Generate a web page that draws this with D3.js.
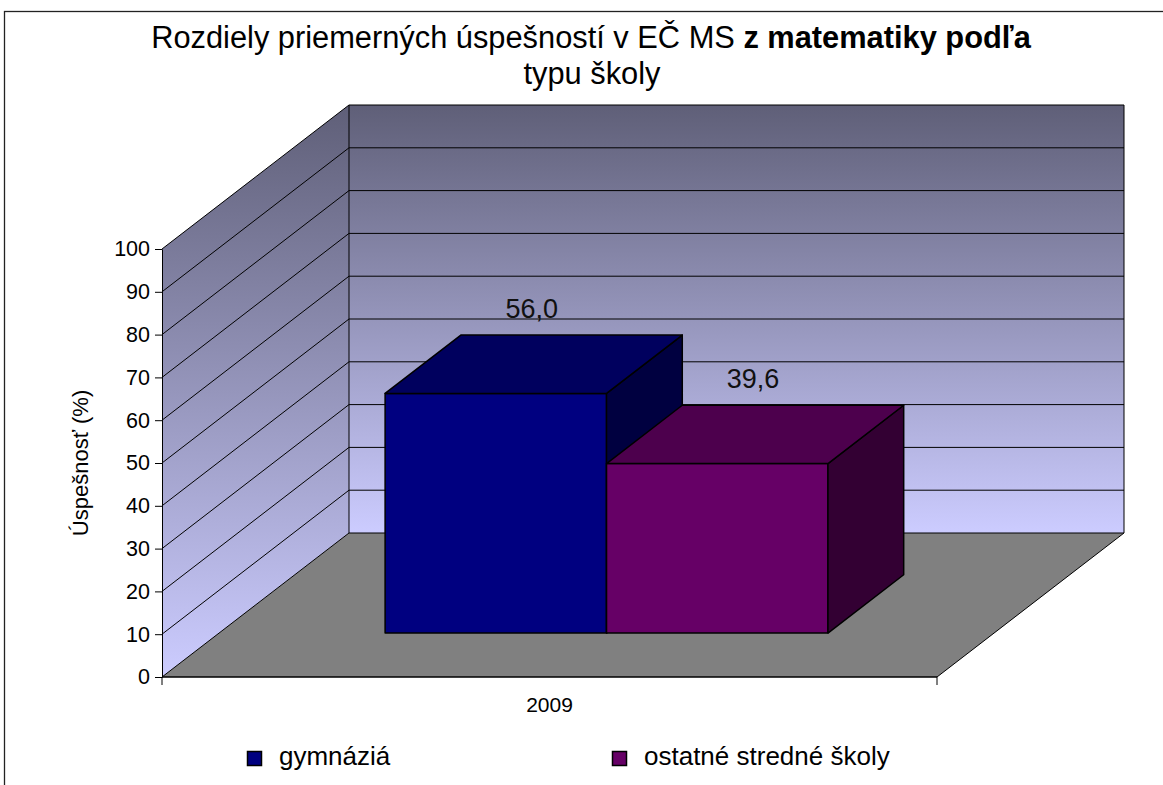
<!DOCTYPE html>
<html>
<head>
<meta charset="utf-8">
<script src="https://cdn.jsdelivr.net/npm/d3@7"></script>
<style>
  body { margin: 0; background: #fff; }
  svg { display: block; font-family: "Liberation Sans", Arial, sans-serif; }
  .wall-line { stroke: #000; stroke-width: 1; fill: none; }
  .bar path { stroke: #000; stroke-width: 1.5; stroke-linejoin: round; }
</style>
</head>
<body>
<svg id="chart" width="1163" height="785"></svg>
<script>

// chart data
let categories = ['2009'];
let series = ['gymnáziá', 'ostatné stredné školy'];
let values = [56.0, 39.6];
let yDomain = [0, 100];
let yTickStep = 10;

// styles for each series: front, top and side faces of a bar
let seriesStyle = [
    { front: '#000080', top: '#00005e', side: '#000040' },
    { front: '#660066', top: '#4d004d', side: '#330033' }
];

let svg = d3.select('#chart');

// the floor front edge and the depth vector used for the fake 3D
let plot = { left: 162, right: 937, bottom: 677, top: 249 };
let depth = { dx: 187, dy: -144 };
// bars sit between these fractions of the total depth
let barDepth = [0.305, 0.71];

// scales
let y = d3.scaleLinear().domain(yDomain).range([plot.bottom, plot.top]);
let x = d3.scaleBand().domain(categories).range([plot.left, plot.right]).padding(0);
// gap width 150% -> outer padding of 0.75 bar each side
let xs = d3.scaleBand().domain(series).range([0, x.bandwidth()])
    .paddingInner(0).paddingOuter(0.75);

/** projects a point (screen x at front, value, depth fraction) into the picture */
function P(px, v, z) {
    return [px + z * depth.dx, y(v) + z * depth.dy];
}
function poly(points) {
    return 'M' + points.map(p => p.join(',')).join('L') + 'Z';
}

// outer frame, its right and bottom edges fall outside the picture
svg.append('rect')
    .attr('x', 4.5).attr('y', 11.5)
    .attr('width', 1300).attr('height', 900)
    .attr('fill', 'none').attr('stroke', '#222').attr('stroke-width', 1.3);

// wall gradients, dark at the top going to a pale lavender
let defs = svg.append('defs');
function gradient(id) {
    let g = defs.append('linearGradient').attr('id', id)
        .attr('x1', 0).attr('y1', 0).attr('x2', 0).attr('y2', 1);
    g.append('stop').attr('offset', '0%').attr('stop-color', '#5f5f78');
    g.append('stop').attr('offset', '100%').attr('stop-color', '#ccccff');
}
gradient('backWall');
gradient('sideWall');

let walls = svg.append('g').attr('class', 'walls');

// left wall
walls.append('path')
    .attr('d', poly([P(plot.left, yDomain[0], 0), P(plot.left, yDomain[1], 0),
                     P(plot.left, yDomain[1], 1), P(plot.left, yDomain[0], 1)]))
    .attr('fill', 'url(#sideWall)');

// back wall
walls.append('path')
    .attr('d', poly([P(plot.left, yDomain[0], 1), P(plot.left, yDomain[1], 1),
                     P(plot.right, yDomain[1], 1), P(plot.right, yDomain[0], 1)]))
    .attr('fill', 'url(#backWall)');

// gridlines over both walls
let gridValues = d3.range(yDomain[0] + yTickStep, yDomain[1], yTickStep);
let grid = walls.append('g').attr('class', 'grid');
gridValues.forEach(function(v) {
    let a = P(plot.left, v, 0), b = P(plot.left, v, 1), c = P(plot.right, v, 1);
    grid.append('path')
        .attr('class', 'wall-line')
        .attr('d', `M${a[0]},${a[1]}L${b[0]},${b[1]}L${c[0]},${c[1]}`);
});

// wall outlines
let tl = P(plot.left, yDomain[1], 0), tb = P(plot.left, yDomain[1], 1),
    tr = P(plot.right, yDomain[1], 1), br = P(plot.right, yDomain[0], 1),
    bb = P(plot.left, yDomain[0], 1);
walls.append('path').attr('class', 'wall-line')
    .attr('d', `M${tl[0]},${tl[1]}L${tb[0]},${tb[1]}L${bb[0]},${bb[1]}`);
walls.append('path').attr('class', 'wall-line').attr('stroke', '#888')
    .attr('d', `M${tb[0]},${tb[1]}L${tr[0]},${tr[1]}`);
walls.append('path').attr('class', 'wall-line')
    .attr('d', `M${tr[0]},${tr[1]}L${br[0]},${br[1]}`);

// floor
svg.append('path')
    .attr('d', poly([P(plot.left, 0, 0), P(plot.right, 0, 0),
                     P(plot.right, 0, 1), P(plot.left, 0, 1)]))
    .attr('fill', '#808080')
    .attr('stroke', '#000').attr('stroke-width', 1);

// bars as three visible faces each, drawn left to right
let bars = svg.append('g').attr('class', 'bars')
    .selectAll('.bar')
    .data(series.map((s, i) => ({ name: s, value: values[i], style: seriesStyle[i] })))
    .enter().append('g')
    .attr('class', 'bar');

bars.each(function(d) {
    let x0 = x(categories[0]) + xs(d.name);
    let x1 = x0 + xs.bandwidth();
    let z0 = barDepth[0], z1 = barDepth[1];
    let g = d3.select(this);
    // front face
    g.append('path')
        .attr('d', poly([P(x0, 0, z0), P(x1, 0, z0), P(x1, d.value, z0), P(x0, d.value, z0)]))
        .attr('fill', d.style.front);
    // right side face
    g.append('path')
        .attr('d', poly([P(x1, 0, z0), P(x1, 0, z1), P(x1, d.value, z1), P(x1, d.value, z0)]))
        .attr('fill', d.style.side);
    // top face
    g.append('path')
        .attr('d', poly([P(x0, d.value, z0), P(x1, d.value, z0), P(x1, d.value, z1), P(x0, d.value, z1)]))
        .attr('fill', d.style.top);
});

// value labels with a decimal comma
let sk = d3.formatLocale({ decimal: ',', thousands: ' ', grouping: [3], currency: ['', ' €'] });
let fmt = sk.format('.1f');
bars.append('text')
    .attr('x', d => P(x(categories[0]) + xs(d.name) + xs.bandwidth() / 2, d.value, (barDepth[0] + barDepth[1]) / 2)[0] - 2)
    .attr('y', d => P(0, d.value, barDepth[1])[1] - 17)
    .attr('text-anchor', 'middle')
    .attr('font-size', 27)
    .attr('fill', '#111')
    .text(d => fmt(d.value));

// y axis on the front edge of the left wall
let yAxis = d3.axisLeft(y)
    .tickValues(d3.range(yDomain[0], yDomain[1] + 1, yTickStep))
    .tickSize(7).tickSizeOuter(0).tickPadding(5);
let yg = svg.append('g')
    .attr('transform', `translate(${plot.left},0)`)
    .call(yAxis);
yg.selectAll('text').attr('font-size', 21.5).attr('fill', '#000')
    .attr('font-family', '"Liberation Sans", Arial, sans-serif');
yg.selectAll('line, path').attr('stroke', '#000');

// axis title
svg.append('text')
    .attr('transform', `translate(88, ${(plot.top + plot.bottom) / 2}) rotate(-90)`)
    .attr('text-anchor', 'middle')
    .attr('font-size', 22)
    .text('Úspešnosť (%)');

// x axis along the front floor edge, ticks at the category borders
let xg = svg.append('g').attr('class', 'x-axis');
xg.append('line')
    .attr('x1', plot.left).attr('x2', plot.right)
    .attr('y1', plot.bottom).attr('y2', plot.bottom)
    .attr('stroke', '#000');
let edges = [x.range()[0]].concat(categories.map(c => x(c) + x.bandwidth()));
xg.selectAll('.tick').data(edges).enter().append('line')
    .attr('x1', d => d).attr('x2', d => d)
    .attr('y1', plot.bottom).attr('y2', plot.bottom + 8)
    .attr('stroke', '#000');
xg.selectAll('.label').data(categories).enter().append('text')
    .attr('x', d => x(d) + x.bandwidth() / 2)
    .attr('y', 712)
    .attr('text-anchor', 'middle')
    .attr('font-size', 21)
    .text(d => d);

// legend
let legendX = [247, 612];
let legend = svg.append('g').attr('class', 'legend')
    .selectAll('g').data(series).enter().append('g')
    .attr('transform', (d, i) => `translate(${legendX[i]}, 751)`);
legend.append('rect')
    .attr('x', 0.5).attr('y', 0.5).attr('width', 14).attr('height', 14)
    .attr('fill', (d, i) => seriesStyle[i].front)
    .attr('stroke', '#000').attr('stroke-width', 1.5);
legend.append('text')
    .attr('x', 32).attr('y', 14)
    .attr('font-size', 26)
    .text(d => d);

// title, second half of the first line in bold
let title = svg.append('text')
    .attr('x', 591).attr('y', 48)
    .attr('text-anchor', 'middle')
    .attr('font-size', 30.8);
title.append('tspan').text('Rozdiely priemerných úspešností v EČ MS ');
title.append('tspan').attr('font-weight', 'bold').text('z matematiky podľa');
svg.append('text')
    .attr('x', 592).attr('y', 84)
    .attr('text-anchor', 'middle')
    .attr('font-size', 30.8)
    .text('typu školy');

</script>
</body>
</html>
